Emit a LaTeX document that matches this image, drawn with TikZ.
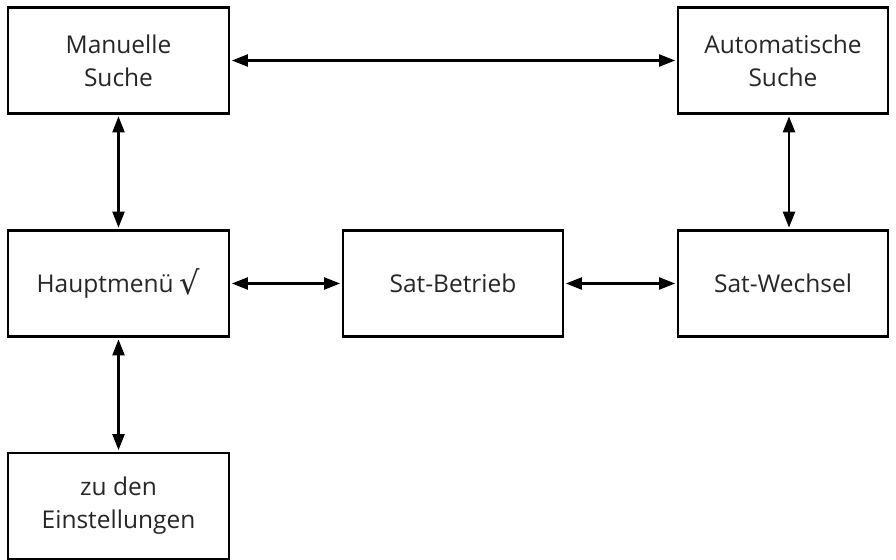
\documentclass[tikz,border=0pt]{standalone}
\usepackage{fontspec}
\setmainfont{Open Sans}
\newfontfamily\symfont{DejaVu Sans}
\usetikzlibrary{arrows.meta}
\begin{document}
\begin{tikzpicture}[x=1pt,y=-1pt,
  box/.style={draw=black,line width=2.8pt,inner sep=0pt,align=center,font=\fontsize{24.5}{33}\selectfont,text=black!85},
  tip/.tip={Triangle[length=16pt,width=12pt]},
  link/.style={line width=2.4pt,tip-tip,shorten <=1.5pt,shorten >=1.5pt}]
\useasboundingbox (0,0) rectangle (896,559);
\node[box,minimum width=221pt,minimum height=106pt] (ms) at (118.5,60.5) {Manuelle\\Suche};
\node[box,minimum width=210pt,minimum height=106pt] (as) at (783,60.5) {Automatische\\Suche};
\node[box,minimum width=221pt,minimum height=106pt] (hm) at (118.5,283.5) {Hauptmenü {\symfont\fontsize{32}{32}\selectfont\raisebox{-2pt}{√}}};
\node[box,minimum width=220pt,minimum height=106pt] (sb) at (453,283.5) {Sat-Betrieb};
\node[box,minimum width=210pt,minimum height=106pt] (sw) at (783,283.5) {Sat-Wechsel};
\node[box,minimum width=221pt,minimum height=106pt] (ze) at (118.5,506) {zu den\\Einstellungen};
\draw[link] (ms.east) -- (as.west);
\draw[link] (ms.south) -- (hm.north);
\draw[link] (as.south -| 789,0) -- (sw.north -| 789,0);
\draw[link] (hm.east) -- (sb.west);
\draw[link] (sb.east) -- (sw.west);
\draw[link] (hm.south) -- (ze.north);
\end{tikzpicture}
\end{document}
